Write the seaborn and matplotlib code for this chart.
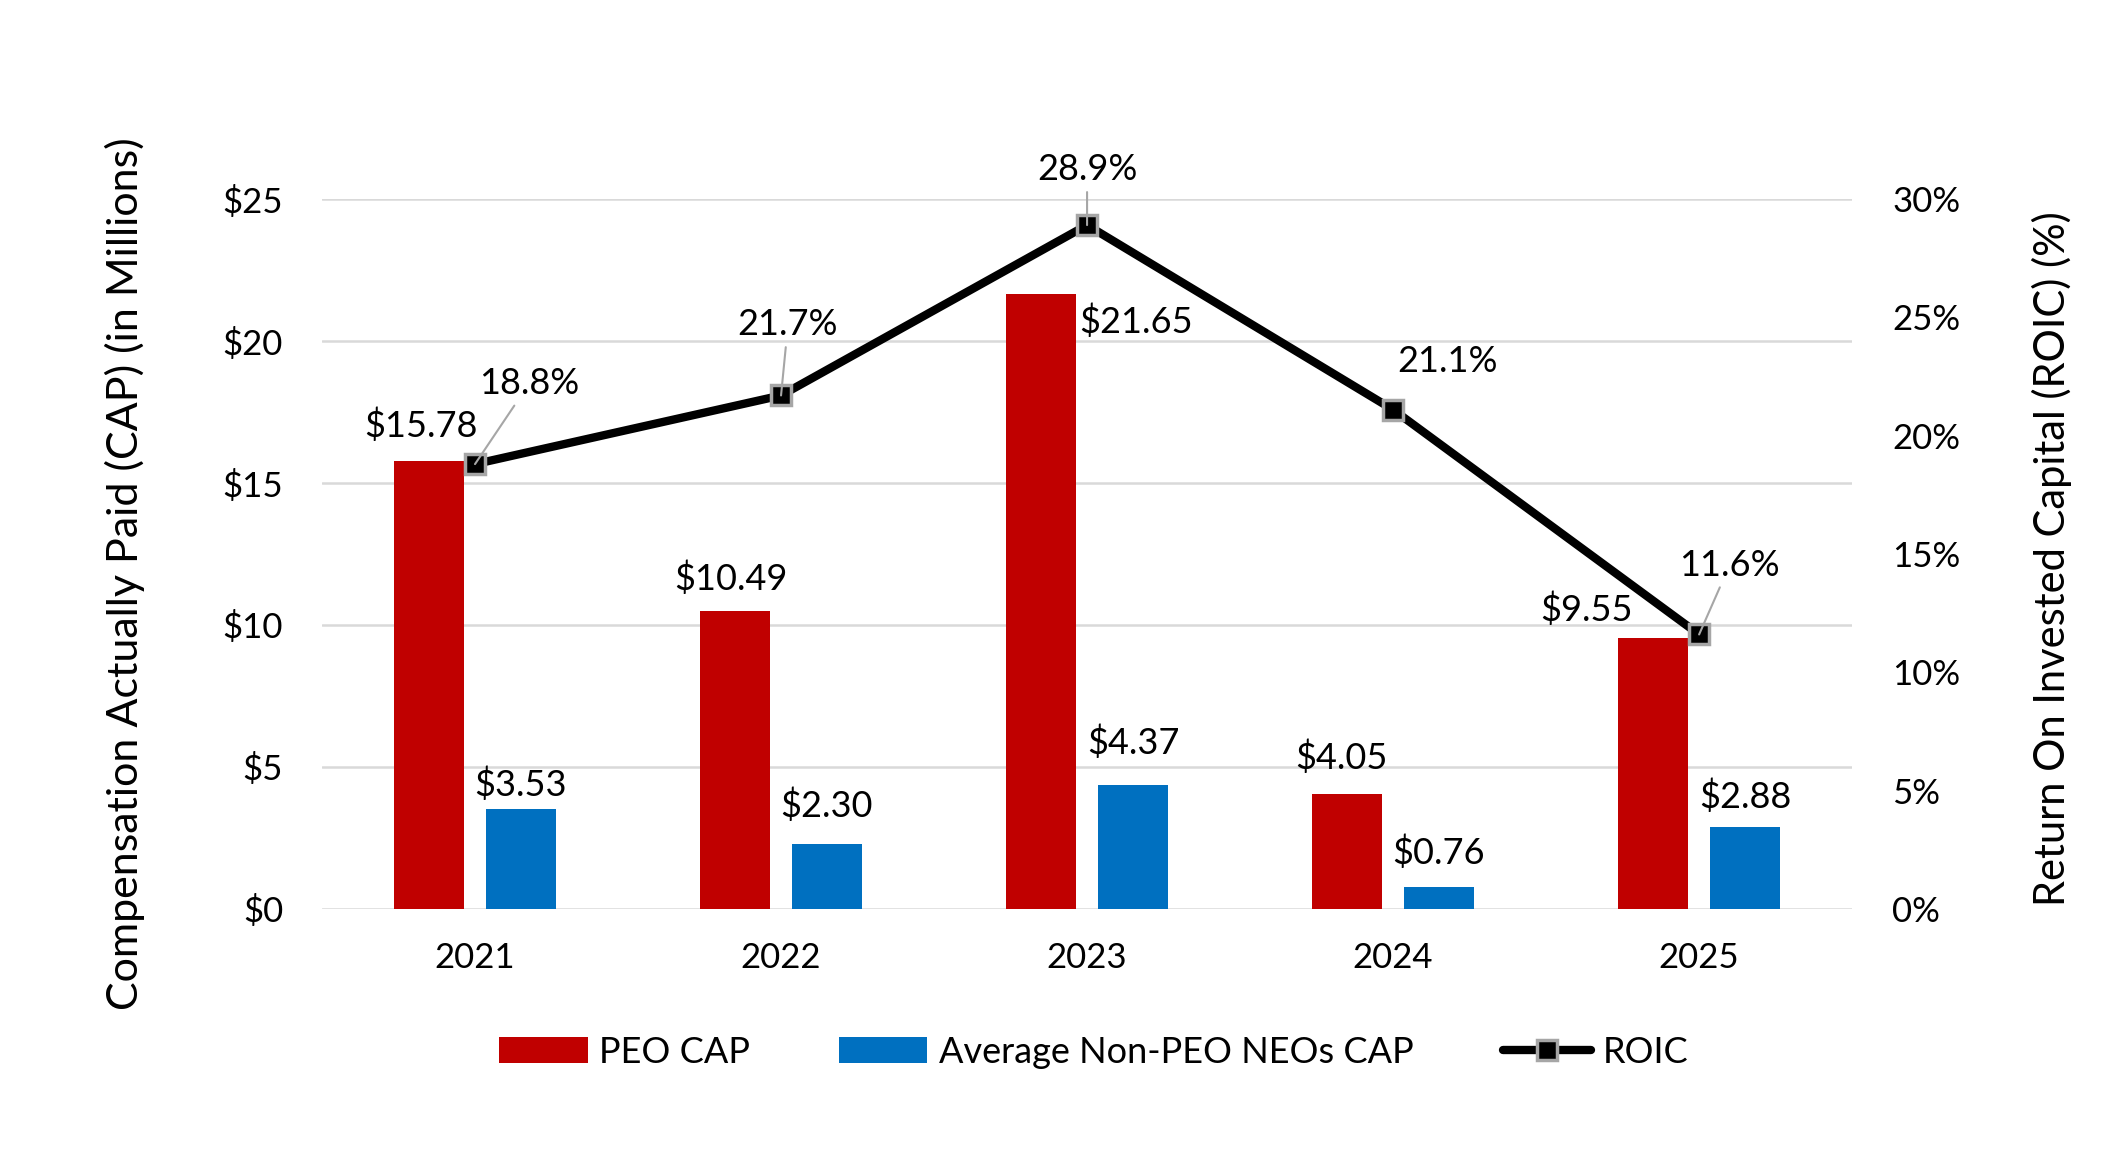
import matplotlib
matplotlib.use("Agg")
import numpy as np
import pandas as pd
import matplotlib.pyplot as plt
import seaborn as sns
from matplotlib.lines import Line2D
from matplotlib.patches import Patch

# === Данные ===
years = ["2021", "2022", "2023", "2024", "2025"]
peo_cap = [15.78, 10.49, 21.65, 4.05, 9.55]
neo_cap = [3.53, 2.30, 4.37, 0.76, 2.88]
roic = [18.8, 21.7, 28.9, 21.1, 11.6]

peo_name = "PEO CAP"
neo_name = "Average Non-PEO NEOs CAP"
red = "#C00000"
blue = "#0070C0"
grey = "#A6A6A6"

df = pd.DataFrame({
    "Year": years * 2,
    "CAP": peo_cap + neo_cap,
    "Series": [peo_name] * len(years) + [neo_name] * len(years),
})

sns.set_theme(style="white")
plt.rcParams['font.family'] = ['Lato', 'DejaVu Sans']
plt.rcParams['text.color'] = 'black'
plt.rcParams['xtick.color'] = 'black'
plt.rcParams['ytick.color'] = 'black'
plt.rcParams['axes.labelcolor'] = 'black'
fs_tick = 25
fs_lab = 26
fs_title = 31

fig = plt.figure(figsize=(21.24, 11.73), dpi=100)
ax = fig.add_axes([0.1516, 0.2251, 0.7204, 0.6052])

sns.barplot(data=df, x="Year", y="CAP", hue="Series", palette=[red, blue],
            width=0.6, gap=0.233, saturation=1, linewidth=0, legend=False, ax=ax)

ax.set_xlim(-0.5, 4.5)
ax.set_ylim(0, 25)
ax.set_yticks(range(0, 26, 5))
ax.set_yticklabels([f"${v}" for v in range(0, 26, 5)])
ax.yaxis.grid(True, color="#D9D9D9", lw=1.8)
ax.set_axisbelow(True)
ax.tick_params(axis="y", length=0, pad=28, labelsize=fs_tick)
ax.tick_params(axis="x", length=0, pad=24, labelsize=fs_tick)
ax.set_xlabel("")
ax.set_ylabel("Compensation Actually Paid (CAP) (in Millions)", fontsize=fs_title)
ax.yaxis.set_label_coords(-0.1157, 0.472)
for s in ax.spines.values():
    s.set_visible(False)

# Подписи столбцов
off = 0.15
peo_off = [(-6, 25), (-3, 23), None, (-4, 26), (-48, 20)]
neo_off = [(0, 17), (0, 27), (0, 30), (0, 25), (0, 22)]
for i in range(len(years)):
    if peo_off[i] is None:
        ax.annotate(f"${peo_cap[i]:.2f}", xy=(i - off + 0.116, peo_cap[i]),
                    xytext=(2, -20), textcoords="offset points",
                    ha="left", va="center", fontsize=fs_lab)
    else:
        ax.annotate(f"${peo_cap[i]:.2f}", xy=(i - off, peo_cap[i]),
                    xytext=peo_off[i], textcoords="offset points",
                    ha="center", va="center", fontsize=fs_lab)
    ax.annotate(f"${neo_cap[i]:.2f}", xy=(i + off, neo_cap[i]),
                xytext=neo_off[i], textcoords="offset points",
                ha="center", va="center", fontsize=fs_lab)

# ROIC на второй оси
ax2 = ax.twinx()
sns.lineplot(x=np.arange(len(years)), y=roic, ax=ax2, color="black", lw=6,
             marker="s", markersize=15, markerfacecolor="black",
             markeredgecolor=grey, markeredgewidth=2.5)
ax2.set_ylim(0, 30)
ax2.set_yticks(range(0, 31, 5))
ax2.set_yticklabels([f"{v}%" for v in range(0, 31, 5)])
ax2.tick_params(axis="y", length=0, pad=29, labelsize=fs_tick)
ax2.set_ylabel("Return On Invested Capital (ROIC) (%)", fontsize=30)
ax2.yaxis.set_label_coords(1.1176, 0.493)
for s in ax2.spines.values():
    s.set_visible(False)

roic_off = [(39, 58), (5, 51), (0, 40), (39, 35), (22, 50)]
roic_leader = [True, True, True, False, True]
for i, v in enumerate(roic):
    props = dict(arrowstyle="-", color=grey, lw=1.5, shrinkA=2, shrinkB=0) if roic_leader[i] else None
    ax2.annotate(f"{v}%", xy=(i, v), xytext=roic_off[i], textcoords="offset points",
                 ha="center", va="center", fontsize=fs_lab, arrowprops=props)

# Легенда
handles = [
    Patch(facecolor=red, edgecolor="none", label=peo_name),
    Patch(facecolor=blue, edgecolor="none", label=neo_name),
    Line2D([], [], color="black", lw=6, marker="s", markersize=15,
           markerfacecolor="black", markeredgecolor=grey, markeredgewidth=2.5, label="ROIC"),
]
fig.legend(handles=handles, loc="center", bbox_to_anchor=(0.515, 0.103), ncol=3,
           frameon=False, fontsize=fs_lab, handlelength=2.45, handleheight=0.7,
           handletextpad=0.33, columnspacing=2.45)

fig.savefig("out.png", dpi=100)
